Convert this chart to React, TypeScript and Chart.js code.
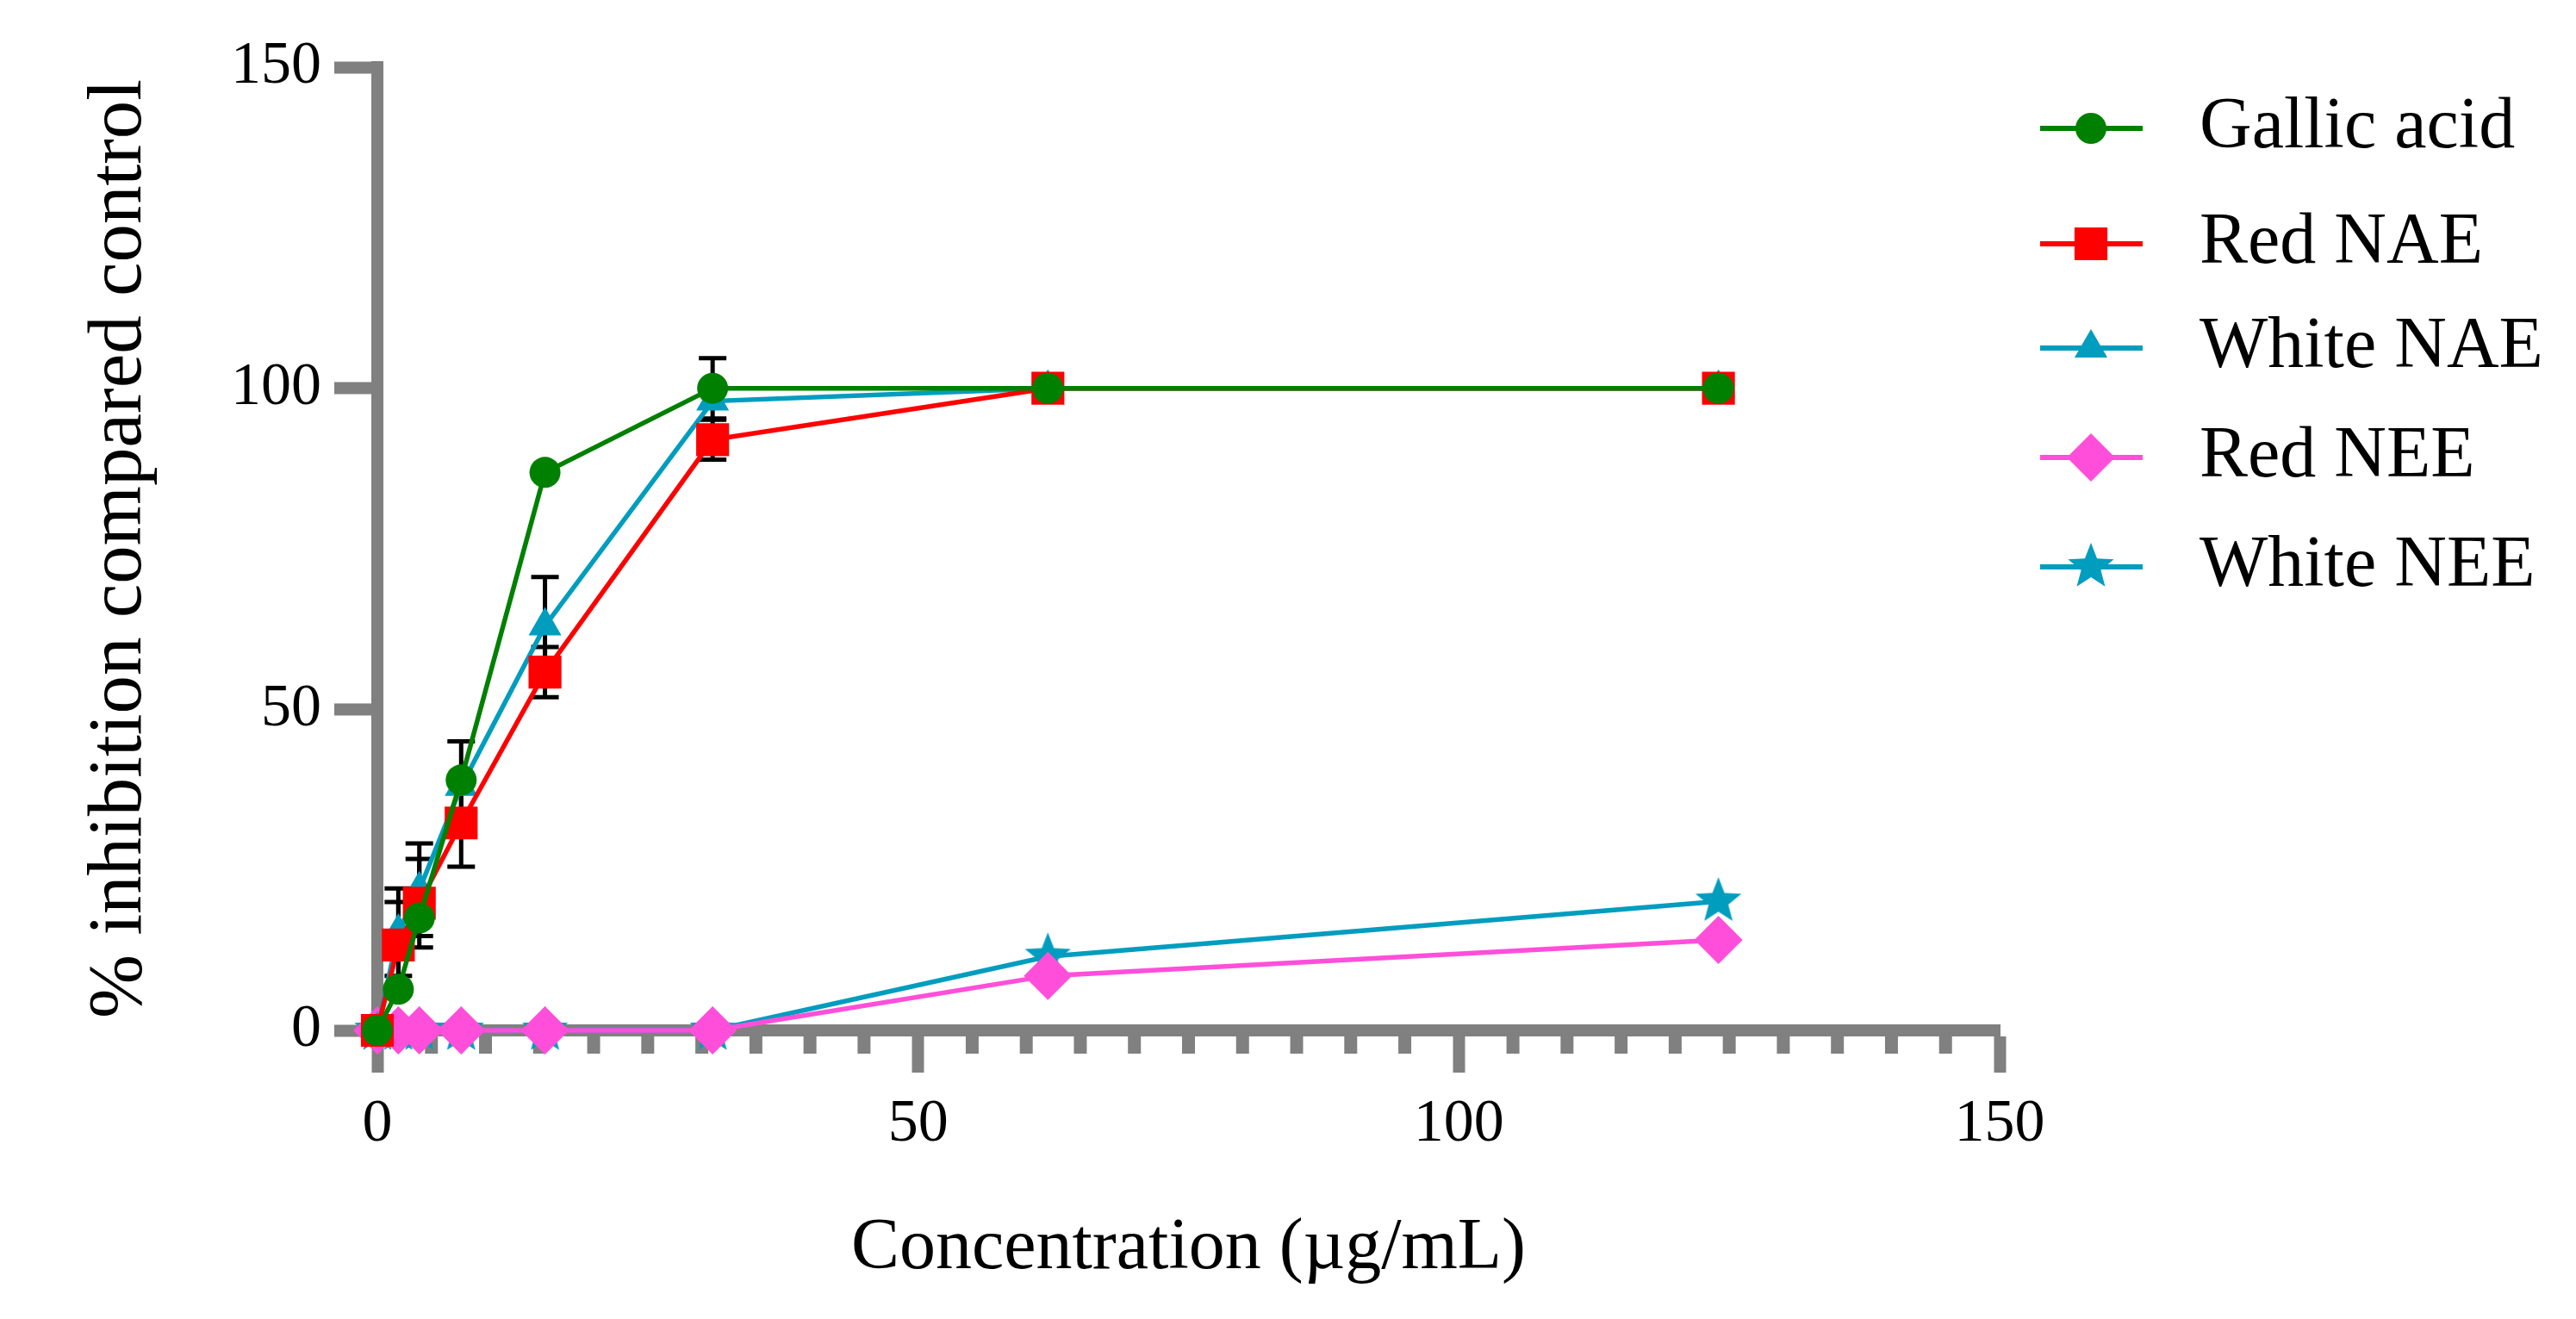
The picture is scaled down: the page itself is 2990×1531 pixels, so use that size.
import { useEffect, useRef } from "react";
import Chart from "chart.js/auto";
import { drawPoint } from "chart.js/helpers";

// concentrations (µg/mL) and % inhibition for each extract
const concentrations = [0, 1.94, 3.88, 7.75, 15.5, 31, 62, 124];
const gallicAcid = [0, 6.4, 17.5, 39, 86.9, 100, 100, 100];
const redNAE = [0, 13.3, 19.8, 32.3, 55.8, 92, 100, 100];
const whiteNAE = [0, 15.3, 21.9, 38, 63, 98, 100, 100];
const redNEE = [0, 0, 0, 0, 0, 0, 8.5, 14.1];
const whiteNEE = [0, 0, 0, 0, 0, 0, 11.5, 20.1];

// error bars (± SD)
const gallicAcidErr = [0, 0, 0, 0, 0, 4.7, 0, 0];
const redNAEErr = [0, 6.7, 6.9, 6.8, 3.9, 3.1, 0, 0];
const whiteNAEErr = [0, 6.8, 7.2, 7, 7.6, 0, 0, 0];

const seriesNames = ["Gallic acid", "Red NAE", "White NAE", "Red NEE", "White NEE"];
const xTickLabels = [0, 50, 100, 150];
const yTickLabels = [0, 50, 100, 150];

const GRAY = "#808080";
const AXIS_W = 14;
const GREEN = "#008000";
const RED = "#FF0000";
const TEAL = "#009DBF";
const PINK = "#FF4FDA";
const FONT = '"Liberation Serif", "Times New Roman", serif';

const toPoints = (ys: number[]) => concentrations.map((x, i) => ({ x, y: ys[i] }));

const makeStar = (color: string, outer: number, inner: number) => {
	const c = document.createElement("canvas");
	const s = Math.ceil(outer * 2 + 4);
	c.width = s;
	c.height = s;
	const g = c.getContext("2d")!;
	g.translate(s / 2, s / 2);
	g.beginPath();
	for (let i = 0; i < 10; i++) {
		const a = -Math.PI / 2 + (i * Math.PI) / 5;
		const r = i % 2 === 0 ? outer : inner;
		g.lineTo(Math.cos(a) * r, Math.sin(a) * r);
	}
	g.closePath();
	g.fillStyle = color;
	g.fill();
	return c;
};

// minor ticks on the x axis and the top corner of the y axis
const axisExtrasPlugin = {
	id: "axisExtras",
	beforeDatasetsDraw(chart: any) {
		const { ctx, chartArea, scales } = chart;
		ctx.save();
		ctx.fillStyle = GRAY;
		scales.x.ticks.forEach((t: any) => {
			if (xTickLabels.includes(t.value)) return;
			const px = scales.x.getPixelForValue(t.value);
			ctx.fillRect(px - 7.5, chartArea.bottom + AXIS_W / 2, 15, 20);
		});
		ctx.fillRect(chartArea.left - AXIS_W / 2, chartArea.top - AXIS_W / 2, AXIS_W, AXIS_W);
		ctx.restore();
	},
};

const errorBarPlugin = {
	id: "errorBars",
	beforeDatasetsDraw(chart: any) {
		const { ctx, scales } = chart;
		ctx.save();
		ctx.strokeStyle = "#000";
		ctx.lineWidth = 5;
		chart.data.datasets.forEach((ds: any) => {
			if (!ds.errors) return;
			ds.data.forEach((p: any, i: number) => {
				const e = ds.errors[i];
				if (!e) return;
				const px = scales.x.getPixelForValue(p.x);
				const top = scales.y.getPixelForValue(p.y + e);
				const bot = scales.y.getPixelForValue(p.y - e);
				ctx.beginPath();
				ctx.moveTo(px, top);
				ctx.lineTo(px, bot);
				ctx.moveTo(px - 16, top);
				ctx.lineTo(px + 16, top);
				ctx.moveTo(px - 16, bot);
				ctx.lineTo(px + 16, bot);
				ctx.stroke();
			});
		});
		ctx.restore();
	},
};

// legend with line + marker, drawn on the right
const legendRows = [149, 283, 404, 531, 658];
const legendPlugin = {
	id: "lineLegend",
	afterDraw(chart: any) {
		const { ctx } = chart;
		ctx.save();
		chart.data.datasets.forEach((ds: any, i: number) => {
			const y = legendRows[i];
			ctx.strokeStyle = ds.borderColor;
			ctx.lineWidth = 6;
			ctx.beginPath();
			ctx.moveTo(2368, y);
			ctx.lineTo(2487, y);
			ctx.stroke();
			ctx.fillStyle = ds.pointBackgroundColor;
			ctx.strokeStyle = ds.pointBackgroundColor;
			drawPoint(ctx, { pointStyle: ds.pointStyle, radius: ds.pointRadius, rotation: 0, borderWidth: 0 }, 2427, y);
			ctx.fillStyle = "#000";
			ctx.font = `84px ${FONT}`;
			ctx.textAlign = "left";
			ctx.textBaseline = "middle";
			ctx.fillText(ds.label, 2553, y);
		});
		ctx.restore();
	},
};

const InhibitionChart = () => {
	const chartRef = useRef<HTMLCanvasElement | null>(null);
	const chartInstanceRef = useRef<Chart | null>(null);

	useEffect(() => {
		if (!chartRef.current) return;
		if (chartInstanceRef.current) chartInstanceRef.current.destroy();

		Chart.defaults.font.family = FONT;
		Chart.defaults.color = "#000";
		const star = makeStar(TEAL, 28, 12);

		const line = (label: string, ys: number[], color: string, style: any, radius: number, errors?: number[]) => ({
			label,
			data: toPoints(ys),
			borderColor: color,
			borderWidth: 5.5,
			pointStyle: style,
			pointRadius: radius,
			pointBackgroundColor: color,
			pointBorderColor: color,
			pointBorderWidth: 0,
			clip: false as const,
			errors,
		});

		const xMinorTicks: number[] = [];
		for (let v = 0; v <= 150; v += 5) xMinorTicks.push(v);

		chartInstanceRef.current = new Chart(chartRef.current, {
			type: "line",
			data: {
				datasets: [
					line(seriesNames[0], gallicAcid, GREEN, "circle", 18, gallicAcidErr),
					line(seriesNames[1], redNAE, RED, "rect", 27, redNAEErr),
					line(seriesNames[2], whiteNAE, TEAL, "triangle", 22, whiteNAEErr),
					line(seriesNames[3], redNEE, PINK, "rectRot", 28),
					line(seriesNames[4], whiteNEE, TEAL, star, 28),
				] as any,
			},
			options: {
				animation: false,
				responsive: true,
				maintainAspectRatio: false,
				events: [],
				layout: { padding: { left: 0, top: 78, right: 669, bottom: 0 } },
				scales: {
					x: {
						type: "linear",
						min: 0,
						max: 150,
						afterBuildTicks: (s: any) => {
							s.ticks = xMinorTicks.map((v) => ({ value: v }));
						},
						afterFit: (s: any) => {
							s.height = 335;
						},
						ticks: {
							autoSkip: false,
							maxRotation: 0,
							padding: 19,
							font: { size: 70 },
							color: "#000",
							callback: (v: any) => (xTickLabels.includes(Number(v)) ? String(v) : ""),
						},
						grid: {
							drawOnChartArea: false,
							tickLength: 49,
							tickWidth: AXIS_W,
							tickColor: (c: any) => (c.tick && xTickLabels.includes(c.tick.value) ? GRAY : "rgba(0,0,0,0)"),
						},
						border: { display: true, width: AXIS_W, color: GRAY },
						title: {
							display: true,
							text: "Concentration (µg/mL)",
							font: { size: 84 },
							color: "#000",
							padding: { top: 0, bottom: 31 },
						},
					},
					y: {
						type: "linear",
						min: 0,
						max: 150,
						afterBuildTicks: (s: any) => {
							s.ticks = yTickLabels.map((v) => ({ value: v }));
						},
						afterFit: (s: any) => {
							s.width = 438;
						},
						ticks: { padding: 15, font: { size: 70 }, color: "#000" },
						grid: { drawOnChartArea: false, tickLength: 50, tickWidth: AXIS_W, tickColor: GRAY },
						border: { display: true, width: AXIS_W, color: GRAY },
						title: {
							display: true,
							text: "% inhibition compared control",
							font: { size: 89 },
							color: "#000",
							padding: { top: 86, bottom: 0 },
						},
					},
				},
				plugins: {
					legend: { display: false },
					tooltip: { enabled: false },
				},
			},
			plugins: [axisExtrasPlugin, errorBarPlugin, legendPlugin],
		});

		return () => {
			if (chartInstanceRef.current) {
				chartInstanceRef.current.destroy();
				chartInstanceRef.current = null;
			}
		};
	}, []);

	return (
		<div style={{ position: "relative", width: 2990, height: 1531, background: "#fff" }}>
			<canvas ref={chartRef} />
		</div>
	);
};

const App = () => {
	useEffect(() => {
		document.body.style.margin = "0";
	}, []);
	return <InhibitionChart />;
};

export default App;
